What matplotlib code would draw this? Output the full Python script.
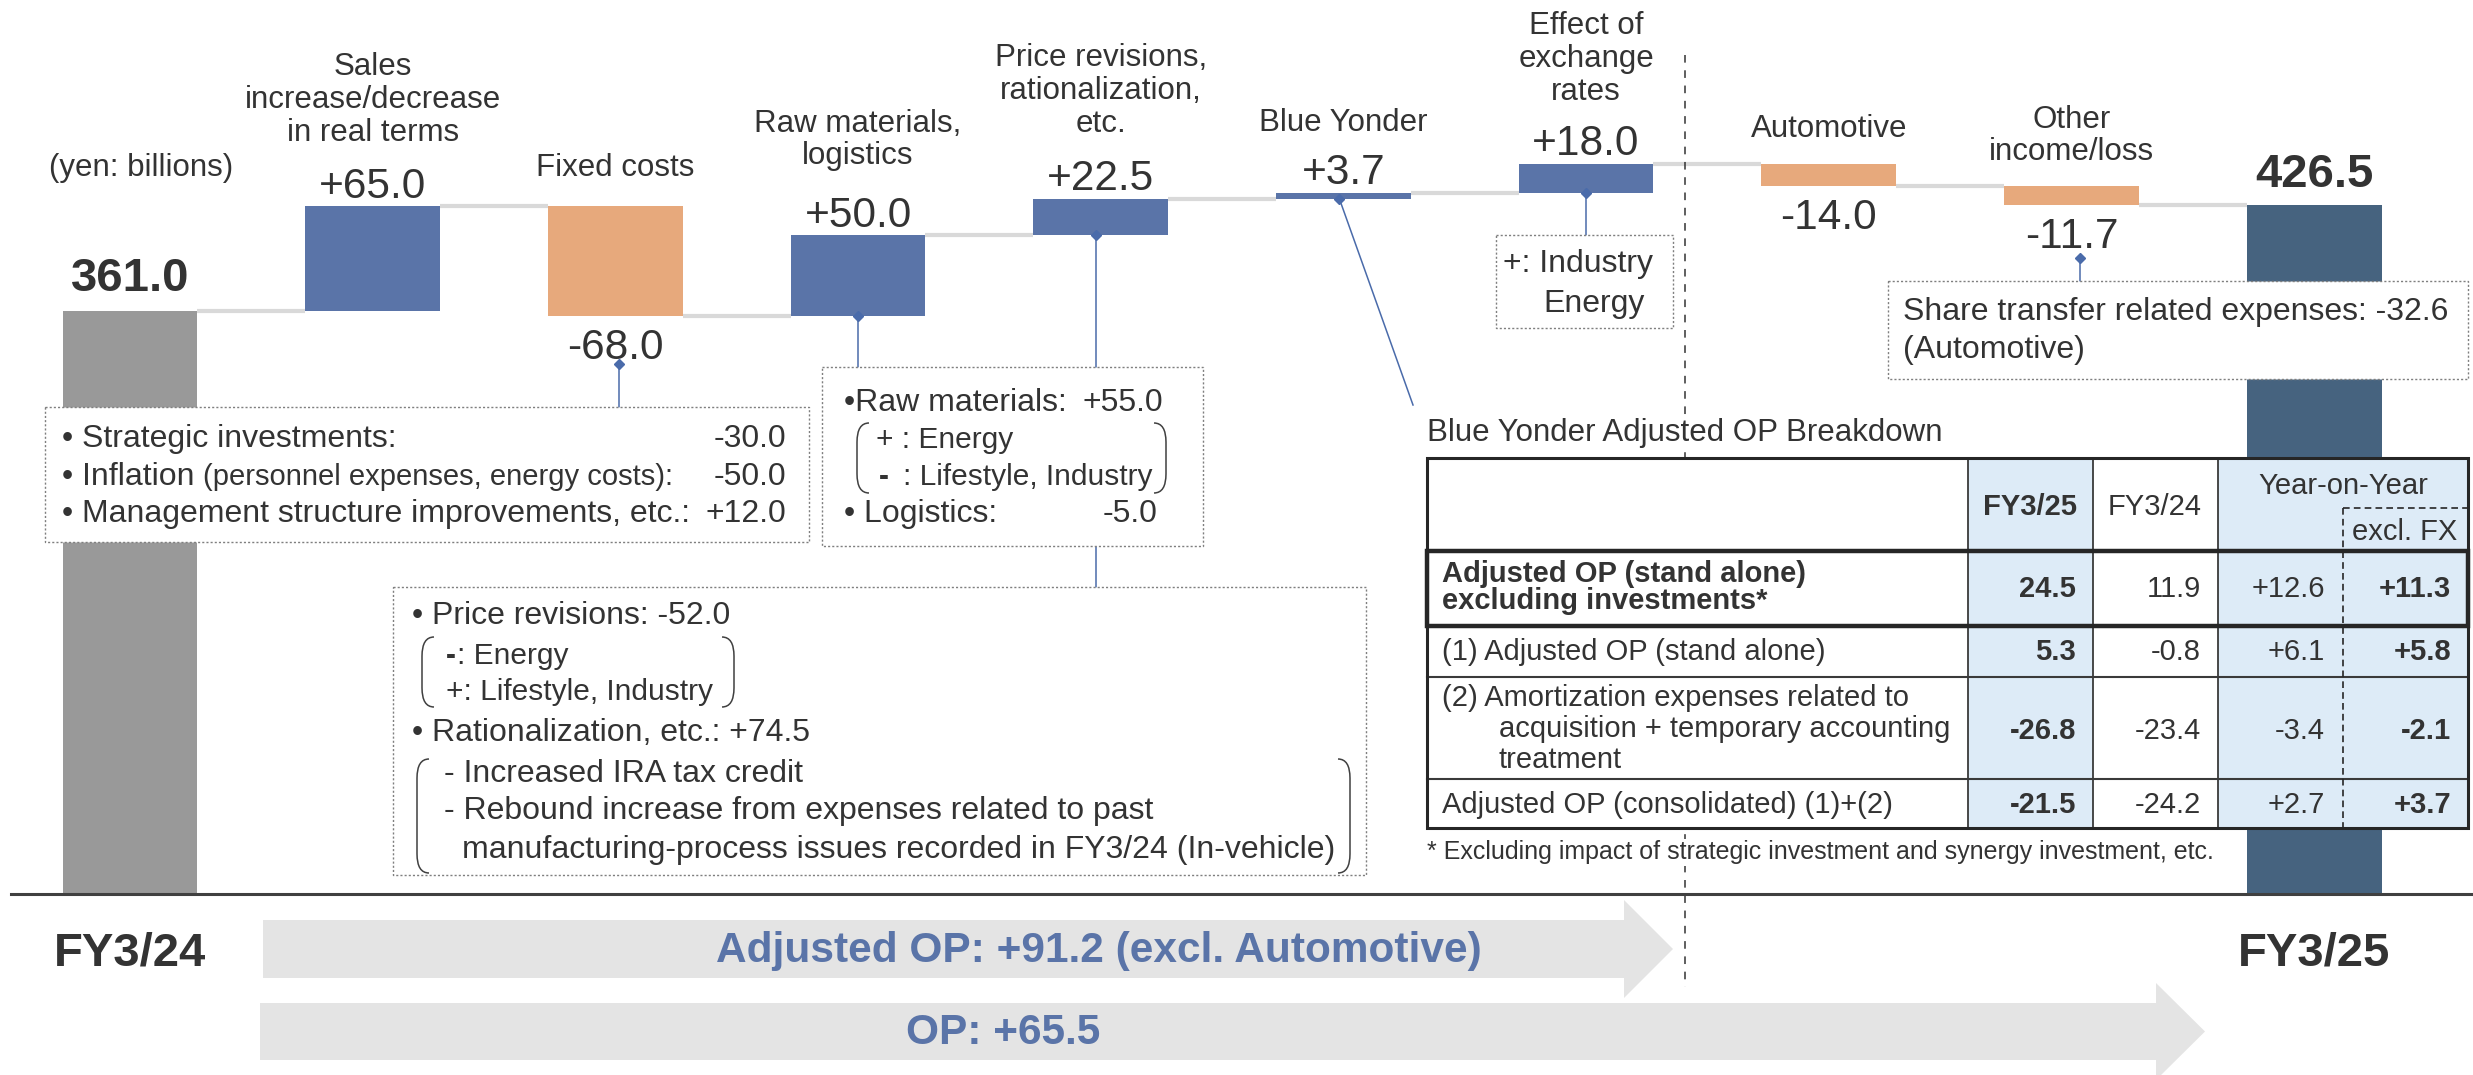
import numpy as np
import matplotlib
matplotlib.use('Agg')
import matplotlib.pyplot as plt
from matplotlib import transforms
from matplotlib.patches import Rectangle, Polygon, PathPatch
from matplotlib.path import Path

plt.rcParams['font.family'] = ['Liberation Sans', 'DejaVu Sans']

# ---- waterfall data (yen: billions)
steps = ['FY3/24', 'Sales\nincrease/decrease\nin real terms', 'Fixed costs',
         'Raw materials,\nlogistics', 'Price revisions,\nrationalization,\netc.',
         'Blue Yonder', 'Effect of\nexchange\nrates', 'Automotive',
         'Other\nincome/loss', 'FY3/25']
start_op = 361.0
deltas = [65.0, -68.0, 50.0, 22.5, 3.7, 18.0, -14.0, -11.7]
end_op = 426.5

# ---- Blue Yonder table data
tbl_rows = [['Adjusted OP (stand alone)', 'excluding investments*'],
            ['(1) Adjusted OP (stand alone)'],
            ['(2) Amortization expenses related to', 'acquisition + temporary accounting', 'treatment'],
            ['Adjusted OP (consolidated) (1)+(2)']]
fy25 = [24.5, 5.3, -26.8, -21.5]
fy24 = [11.9, -0.8, -23.4, -24.2]
yoy = [12.6, 6.1, -3.4, 2.7]
yoy_exfx = [11.3, 5.8, -2.1, 3.7]

TXT = '#333333'
BLUE = '#5A74A8'
ORANGE = '#E7A97C'
LINE_BLUE = '#4A6BAA'

fig = plt.figure(figsize=(24.73, 10.75), dpi=100)
ax = fig.add_axes([0, 0, 1, 1])
ax.set_xlim(-0.5357, 9.655)
ax.set_ylim(-112.07, 553.56)
ax.axis('off')

# overlay in pixel coordinates (y down) for annotations
ov = fig.add_axes([0, 0, 1, 1])
ov.set_xlim(0, 2473)
ov.set_ylim(1075, 0)
ov.axis('off')
ov.set_facecolor('none')

mix = transforms.blended_transform_factory(ax.transData, ov.transData)


def to_px(i, v):
    return ov.transData.inverted().transform(ax.transData.transform((i, v)))


# ---- bars
w = 0.556
levels = start_op + np.cumsum(deltas)
before = np.concatenate([[start_op], levels[:-1]])
x = np.arange(len(steps))
bottoms = [0] + list(np.minimum(before, levels)) + [0]
heights = [start_op] + list(np.abs(deltas)) + [end_op]
colors = ['#999999'] + [BLUE if d > 0 else ORANGE for d in deltas] + ['#46637F']
ax.bar(x, heights, bottom=bottoms, width=w, color=colors, zorder=3)

running = [start_op] + list(levels)
for i, lv in enumerate(running):
    ax.plot([i + w / 2, i + 1 - w / 2], [lv, lv], color='#D9D9D9', lw=3, zorder=2,
            solid_capstyle='butt')

# value labels
for i, d in enumerate(deltas, start=1):
    off = 14 if d > 0 else -23
    ax.annotate(f'{d:+.1f}', xy=(i, levels[i - 1]), xytext=(0, off), textcoords='offset points',
                ha='center', va='center', fontsize=30.5, color=TXT)
ax.annotate(f'{start_op:.1f}', xy=(0, start_op), xytext=(0, 23), textcoords='offset points',
            ha='center', va='center', fontsize=34, fontweight='bold', color=TXT)
ax.annotate(f'{end_op:.1f}', xy=(9, end_op), xytext=(0, 22), textcoords='offset points',
            ha='center', va='center', fontsize=34, fontweight='bold', color=TXT)

# category labels
label_y = [None, 100, 168, 140, 91, 123, 59, 129, 136, None]
for i, lab in enumerate(steps):
    if label_y[i] is None:
        continue
    ov.text(i, label_y[i], lab, transform=mix, ha='center', va='center', fontsize=22.5,
            color=TXT, linespacing=1.13)
ov.text(0, 953, steps[0], transform=mix, ha='center', va='center', fontsize=34,
        fontweight='bold', color=TXT)
ov.text(9, 953, steps[-1], transform=mix, ha='center', va='center', fontsize=34,
        fontweight='bold', color=TXT)
ov.text(49, 168, '(yen: billions)', ha='left', va='center', fontsize=22.5, color=TXT)

# ---- baseline, dashed divider, arrows
ov.plot([11, 2473], [894, 894], color='#404040', lw=2.2, zorder=5)
ov.plot([1685, 1685], [55, 987], color='#333333', lw=1.1, ls=(0, (5, 5)), zorder=1)

ov.add_patch(Polygon([(263, 920), (1624, 920), (1624, 900), (1673, 949), (1624, 998),
                      (1624, 978), (263, 978)], closed=True, fc='#E4E4E4', ec='none', zorder=1))
ov.add_patch(Polygon([(260, 1003), (2156, 1003), (2156, 983), (2205, 1031.5), (2156, 1080),
                      (2156, 1060), (260, 1060)], closed=True, fc='#E4E4E4', ec='none', zorder=1))
ov.text(1099, 951, 'Adjusted OP: +91.2 (excl. Automotive)', ha='center', va='center',
        fontsize=30.5, fontweight='bold', color=BLUE, zorder=6)
ov.text(1003, 1033, 'OP: +65.5', ha='center', va='center', fontsize=30.5,
        fontweight='bold', color=BLUE, zorder=6)


# ---- helpers
def dotted_box(x0, y0, x1, y1):
    ov.add_patch(Rectangle((x0, y0), x1 - x0, y1 - y0, fc='white', ec='#7F7F7F', lw=1,
                           ls=(0, (1.5, 1.5)), zorder=4))


def bracket(xb, y0, y1, side):
    r = 12
    s = 1 if side == 'left' else -1
    verts = [(xb + s * r, y0), (xb, y0), (xb, y0 + r * 1.6), (xb, y1 - r * 1.6), (xb, y1),
             (xb + s * r, y1)]
    codes = [Path.MOVETO, Path.CURVE3, Path.CURVE3, Path.LINETO, Path.CURVE3, Path.CURVE3]
    ov.add_patch(PathPatch(Path(verts, codes), fc='none', ec='#404040', lw=1.1, zorder=5))


def connector(x0, y0, x1, y1):
    ov.plot([x0, x1], [y0, y1], color=LINE_BLUE, lw=1.1, zorder=3)
    ov.plot(x0, y0, marker='D', ms=5, color=LINE_BLUE, zorder=3)


def t(xx, yy, s, **kw):
    kw.setdefault('fontsize', 23)
    kw.setdefault('ha', 'left')
    ov.text(xx, yy, s, va='center', color=TXT, zorder=6, **kw)


# fixed costs box
connector(619, 364, 619, 407)
dotted_box(45, 407, 809, 542)
t(62, 439, '• Strategic investments:')
t(62, 477, '• Inflation')
t(203, 477, '(personnel expenses, energy costs):', fontsize=21)
t(62, 514, '• Management structure improvements, etc.:')
t(786, 439, '-30.0', ha='right')
t(786, 477, '-50.0', ha='right')
t(786, 514, '+12.0', ha='right')

# raw materials box
bx, by = to_px(3, before[2])
connector(bx, by, bx, 367)
px_, py_ = to_px(4, before[3])
connector(px_ - 5, py_, px_ - 5, 587)
dotted_box(822, 367, 1203, 546)
t(844, 403, '•Raw materials:')
t(1163, 403, '+55.0', ha='right')
t(876, 440, '+ : Energy', fontsize=21.5)
t(879, 477, '-', fontsize=21.5, fontweight='bold')
t(903, 477, ': Lifestyle, Industry', fontsize=21.5)
t(844, 514, '• Logistics:')
t(1158, 514, '-5.0', ha='right')
bracket(857, 423, 493, 'left')
bracket(1166, 423, 493, 'right')

# price revisions box
dotted_box(393, 587, 1366, 875)
t(412, 616, '• Price revisions: -52.0')
t(446, 656, '-', fontsize=21.5, fontweight='bold')
t(457, 656, ': Energy', fontsize=21.5)
t(446, 692, '+: Lifestyle, Industry', fontsize=21.5)
t(412, 733, '• Rationalization, etc.: +74.5')
t(444, 774, '- Increased IRA tax credit')
t(444, 811, '- Rebound increase from expenses related to past')
t(462, 850, 'manufacturing-process issues recorded in FY3/24 (In-vehicle)')
bracket(422, 637, 707, 'left')
bracket(734, 637, 707, 'right')
bracket(417, 759, 873, 'left')
bracket(1350, 759, 873, 'right')

# blue yonder connector
yx, yy = to_px(5, before[4])
connector(yx - 4, yy, 1413, 405)

# exchange-rate box
ex, ey = to_px(6, before[5])
connector(ex, ey, ex, 235)
dotted_box(1496, 235, 1673, 328)
t(1503, 264, '+: Industry')
t(1543, 304, 'Energy')

# share transfer box
connector(2080, 258, 2080, 281)
dotted_box(1888, 281, 2468, 379)
t(1903, 312, 'Share transfer related expenses: -32.6')
t(1903, 350, '(Automotive)')

# ---- Blue Yonder table
ov.text(1427, 433, 'Blue Yonder Adjusted OP Breakdown', ha='left', va='center', fontsize=22.5,
        color=TXT, zorder=6, bbox=dict(fc='white', ec='none', pad=2))
cols = [1427, 1968, 2093, 2218, 2468]
rows = [458, 551, 626, 677, 779, 828]
ov.add_patch(Rectangle((cols[0], rows[0]), cols[-1] - cols[0], rows[-1] - rows[0],
                       fc='white', ec='none', zorder=7))
for c0, c1 in [(cols[1], cols[2]), (cols[3], cols[4])]:
    ov.add_patch(Rectangle((c0, rows[0]), c1 - c0, rows[-1] - rows[0], fc='#DDEBF7',
                           ec='none', zorder=7))
for c in cols[1:4]:
    ov.plot([c, c], [rows[0], rows[-1]], color='#3A3A3A', lw=1.3, zorder=8)
for r in rows[3:5]:
    ov.plot([cols[0], cols[-1]], [r, r], color='#3A3A3A', lw=1.5, zorder=8)
ov.add_patch(Rectangle((cols[0], rows[0]), cols[-1] - cols[0], rows[-1] - rows[0],
                       fc='none', ec='#262626', lw=2.2, zorder=9))
ov.add_patch(Rectangle((cols[0], rows[1]), cols[-1] - cols[0], rows[2] - rows[1],
                       fc='none', ec='#262626', lw=3.2, zorder=10))
ov.plot([2343, 2343], [508, rows[-1]], color='#262626', lw=1.2, ls=(0, (4, 2.5)), zorder=9)
ov.plot([2343, cols[-1]], [508, 508], color='#262626', lw=1.2, ls=(0, (4, 2.5)), zorder=9)

hdr = dict(va='center', fontsize=21, color=TXT, zorder=11)
ov.text(2030, 507, 'FY3/25', ha='center', fontweight='bold', **hdr)
ov.text(2155, 507, 'FY3/24', ha='center', **hdr)
ov.text(2343, 486, 'Year-on-Year', ha='center', **hdr)
ov.text(2405, 532, 'excl. FX', ha='center', **hdr)

label_lines_y = [[574, 601], [652], [698, 729, 760], [805]]
value_y = [589, 652, 731, 805]
val_x = [2076, 2201, 2325, 2451]
for r, lines in enumerate(tbl_rows):
    for k, line in enumerate(lines):
        xx = 1499 if (r == 2 and k > 0) else 1442
        ov.text(xx, label_lines_y[r][k], line, ha='left',
                fontweight='bold' if r == 0 else 'normal', **hdr)
    ov.text(val_x[0], value_y[r], f'{fy25[r]:.1f}', ha='right', fontweight='bold', **hdr)
    ov.text(val_x[1], value_y[r], f'{fy24[r]:.1f}', ha='right', **hdr)
    ov.text(val_x[2], value_y[r], f'{yoy[r]:+.1f}', ha='right', **hdr)
    ov.text(val_x[3], value_y[r], f'{yoy_exfx[r]:+.1f}', ha='right', fontweight='bold', **hdr)

ov.text(1427, 852, '* Excluding impact of strategic investment and synergy investment, etc.',
        ha='left', va='center', fontsize=18, color=TXT, zorder=6,
        bbox=dict(fc='white', ec='none', pad=1))

fig.savefig('out.png', dpi=100)
